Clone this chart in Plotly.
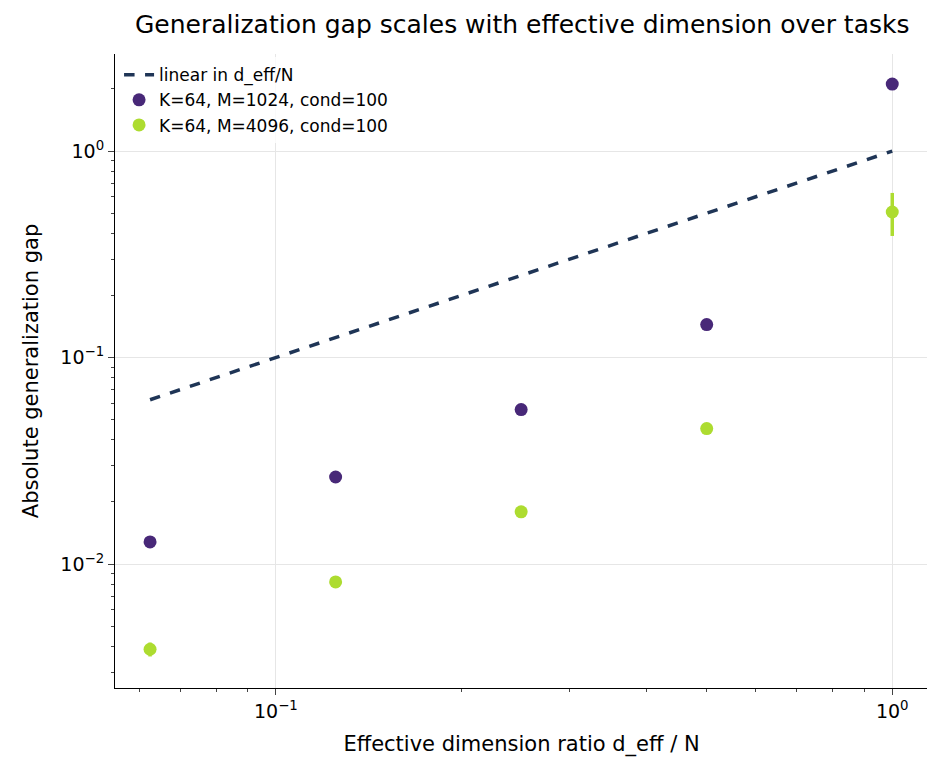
import plotly.graph_objects as go

x = [0.0625, 0.125, 0.25, 0.5, 1.0]
gap_m1024 = [0.0128, 0.0264, 0.056, 0.1445, 2.11]
err_m1024 = [0.0002, 0.0005, 0.001, 0.002, 0.03]
gap_m4096 = [0.00387, 0.0082, 0.0179, 0.0453, 0.507]
err_m4096_plus = [0.0003, 0.0002, 0.0004, 0.001, 0.12]
err_m4096_minus = [0.0003, 0.0002, 0.0004, 0.001, 0.119]
line_x = [0.0625, 1.0]
line_y = [0.0625, 1.0]

fig = go.Figure()
fig.add_trace(go.Scatter(x=line_x, y=line_y, mode="lines", name="linear in d_eff/N",
                         line=dict(color="#1f3556", width=3.5, dash="dash")))
fig.add_trace(go.Scatter(x=x, y=gap_m1024, mode="markers", name="K=64, M=1024, cond=100",
                         marker=dict(color="#482878", size=13),
                         error_y=dict(type="data", array=err_m1024, color="#482878", thickness=3, width=0)))
fig.add_trace(go.Scatter(x=x, y=gap_m4096, mode="markers", name="K=64, M=4096, cond=100",
                         marker=dict(color="#addc30", size=13),
                         error_y=dict(type="data", array=err_m4096_plus, arrayminus=err_m4096_minus,
                                      color="#addc30", thickness=3.5, width=0)))

fig.update_layout(
    width=935, height=760, plot_bgcolor="white", paper_bgcolor="white",
    margin=dict(l=107, r=15, t=46, b=80, autoexpand=False),
    font=dict(family="DejaVu Sans", size=19, color="black"),
    title=dict(text="Generalization gap scales with effective dimension over tasks",
               x=0.55, xanchor="center", y=0.99, yanchor="top", font=dict(size=25)),
    legend=dict(x=0.005, y=0.995, xanchor="left", yanchor="top", bgcolor="rgba(255,255,255,0.8)",
                font=dict(size=17)),
    showlegend=True,
)
fig.update_xaxes(type="log", range=[-1.261, 0.058], showline=True, linecolor="black", linewidth=1.2,
                 ticks="outside", ticklen=6, tickvals=[0.1, 1], ticktext=["10<sup>−1</sup>", "10<sup>0</sup>"],
                 minor=dict(ticks="outside", ticklen=3, tickvals=[0.06,0.07,0.08,0.09,0.2,0.3,0.4,0.5,0.6,0.7,0.8,0.9], showgrid=False),
                 showgrid=True, gridcolor="#e6e6e6", zeroline=False, mirror=False, automargin=False,
                 title=dict(text="Effective dimension ratio d_eff / N", font=dict(size=21)))
fig.update_yaxes(type="log", range=[-2.6, 0.47], showline=True, linecolor="black", linewidth=1.2,
                 ticks="outside", ticklen=6, tickvals=[0.01, 0.1, 1],
                 ticktext=["10<sup>−2</sup>", "10<sup>−1</sup>", "10<sup>0</sup>"],
                 minor=dict(ticks="outside", ticklen=3, tickvals=[0.003,0.004,0.005,0.006,0.007,0.008,0.009,0.02,0.03,0.04,0.05,0.06,0.07,0.08,0.09,0.2,0.3,0.4,0.5,0.6,0.7,0.8,0.9,2], showgrid=False),
                 showgrid=True, gridcolor="#e6e6e6", zeroline=False, automargin=False,
                 title=dict(text="Absolute generalization gap", font=dict(size=21)))
fig.write_html("out.html")
